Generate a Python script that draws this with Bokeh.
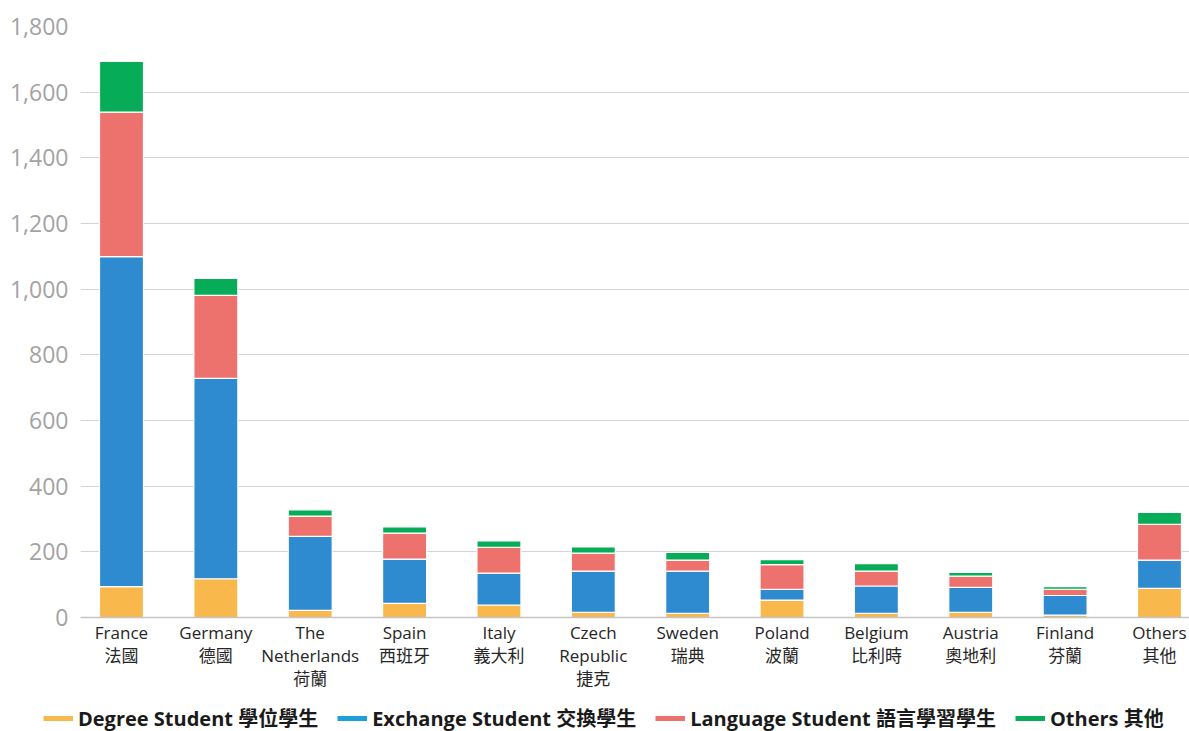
from bokeh.plotting import figure
from bokeh.layouts import column
from bokeh.models import Range1d, FixedTicker, NumeralTickFormatter, Legend, LegendItem, ColumnDataSource
from bokeh.embed import file_html
from bokeh.resources import INLINE

countries = ["France\n法國", "Germany\n德國", "The\nNetherlands\n荷蘭", "Spain\n西班牙",
             "Italy\n義大利", "Czech\nRepublic\n捷克", "Sweden\n瑞典", "Poland\n波蘭",
             "Belgium\n比利時", "Austria\n奧地利", "Finland\n芬蘭", "Others\n其他"]
degree = [94, 118, 22, 43, 38, 16, 13, 53, 13, 16, 7, 89]
exchange = [1005, 610, 225, 135, 97, 125, 128, 33, 83, 76, 60, 86]
language = [440, 253, 62, 79, 79, 55, 34, 75, 45, 34, 19, 109]
others = [155, 52, 19, 19, 19, 19, 23, 15, 23, 11, 8, 36]
series_names = ["Degree Student 學位學生", "Exchange Student 交換學生",
                "Language Student 語言學習學生", "Others 其他"]
y_ticks = [0, 200, 400, 600, 800, 1000, 1200, 1400, 1600, 1800]

bar_colors = ["#F8B84B", "#2E8BD0", "#ED716D", "#06AC57"]
legend_colors = ["#F8B84B", "#1E9FDA", "#ED716D", "#06AC57"]
FONT = "Open Sans, Noto Sans CJK TC"

idx = list(range(len(countries)))
src = ColumnDataSource(dict(x=idx, degree=degree, exchange=exchange, language=language, others=others))

p = figure(width=1189, height=700, output_backend="svg", toolbar_location=None,
           x_range=Range1d(-0.4345, 11.318), y_range=Range1d(0, 1800),
           min_border_left=80, min_border_right=0, min_border_top=26, min_border_bottom=83)
p.outline_line_color = None
p.background_fill_color = "white"
p.frame_align = False

p.vbar_stack(["degree", "exchange", "language", "others"], x="x", width=0.466, source=src,
             fill_color=bar_colors, line_color="white", line_width=1.2)

# axes
p.xaxis.ticker = FixedTicker(ticks=idx)
p.xaxis.major_label_overrides = {i: c for i, c in zip(idx, countries)}
p.xaxis.major_label_text_font = FONT
p.xaxis.major_label_text_font_size = "17px"
p.xaxis.major_label_text_color = "#262626"
p.xaxis.major_label_text_line_height = 1.0
p.xaxis.major_label_standoff = -3
p.xaxis.major_tick_line_color = None
p.xaxis.minor_tick_line_color = None
p.xaxis.axis_line_color = "#c4c4c4"
p.xaxis.axis_line_width = 1.5

p.yaxis.ticker = FixedTicker(ticks=y_ticks)
p.yaxis.formatter = NumeralTickFormatter(format="0,0")
p.yaxis.major_label_text_font = FONT
p.yaxis.major_label_text_font_size = "23px"
p.yaxis.major_label_text_color = "#a3a3a3"
p.yaxis.major_label_standoff = 6
p.yaxis.major_tick_line_color = None
p.yaxis.minor_tick_line_color = None
p.yaxis.axis_line_color = None

p.xgrid.grid_line_color = None
p.ygrid.grid_line_color = "#d4d4d4"
p.ygrid.grid_line_width = 1

# legend strip (separate figure below)
lf = figure(width=1189, height=31, output_backend="svg", toolbar_location=None,
            x_range=Range1d(0, 1), y_range=Range1d(0, 1),
            x_axis_location=None, y_axis_location=None,
            min_border=0, min_border_left=0, min_border_right=0, min_border_top=0, min_border_bottom=0)
lf.outline_line_color = None
lf.xgrid.grid_line_color = None
lf.ygrid.grid_line_color = None
lf.frame_align = False

items = []
for name, col in zip(series_names, legend_colors):
    r = lf.line(x=[-5, -4], y=[-5, -5], line_color=col, line_width=5)
    items.append(LegendItem(label=name, renderers=[r]))

legend = Legend(items=items, orientation="horizontal", location=(43, -1),
                glyph_width=30, glyph_height=20, label_standoff=5, spacing=19,
                padding=0, margin=0, border_line_color=None, background_fill_alpha=0,
                label_text_font=FONT, label_text_font_size="20px",
                label_text_font_style="bold", label_text_color="#1a1a1a")
lf.add_layout(legend, "center")

layout = column(p, lf, spacing=0)
open("out.html", "w").write(file_html(layout, INLINE))
